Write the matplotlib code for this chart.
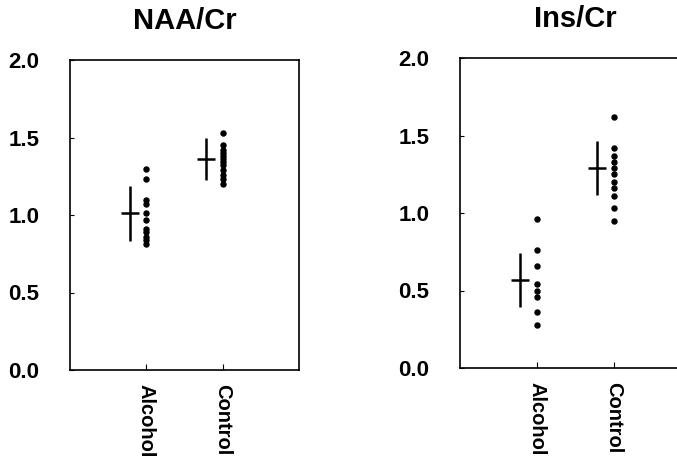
import numpy as np
import matplotlib.pyplot as plt

plt.rcParams['font.family'] = ['Liberation Sans', 'DejaVu Sans']

groups = ["Alcohol", "Control"]
yticks = [0.0, 0.5, 1.0, 1.5, 2.0]

# NAA/Cr
naa_alcohol = [1.30, 1.23, 1.10, 1.07, 1.01, 0.97, 0.91, 0.89, 0.86, 0.84, 0.81]
naa_control = [1.53, 1.45, 1.42, 1.40, 1.38, 1.36, 1.34, 1.32, 1.29, 1.26, 1.23, 1.20]
naa_mean = [1.01, 1.36]
naa_sd = [0.175, 0.135]

# Ins/Cr
ins_alcohol = [0.96, 0.76, 0.66, 0.54, 0.50, 0.46, 0.36, 0.28]
ins_control = [1.62, 1.42, 1.37, 1.33, 1.29, 1.25, 1.20, 1.16, 1.11, 1.03, 0.95]
ins_mean = [0.57, 1.29]
ins_sd = [0.175, 0.175]

fig = plt.figure(figsize=(6.77, 4.66), dpi=100)
W, H = 677, 466
ax1 = fig.add_axes([70 / W, 1 - 370 / H, 229 / W, 310 / H])
ax2 = fig.add_axes([460 / W, 1 - 368 / H, 231 / W, 310 / H])

def panel(ax, title, pts, means, sds):
    x = np.arange(1, len(groups) + 1)
    for i in range(len(groups)):
        ax.plot([x[i]] * len(pts[i]), pts[i], 'o', color='black', markersize=3.6)
    # mean +/- SD cross, offset left of the dots
    ax.errorbar(x - 0.22, means, yerr=sds, fmt='none', ecolor='black', elinewidth=1.8)
    ax.plot(x - 0.22, means, '_', color='black', markersize=13, markeredgewidth=1.8)
    ax.set_xlim(0, 3)
    ax.set_ylim(0, 2.0)
    ax.set_xticks(x)
    ax.set_xticklabels(groups, rotation=270, fontsize=14.5, fontweight='bold')
    ax.set_yticks(yticks)
    ax.set_yticklabels([f"{v:.1f}" for v in yticks], fontsize=16, fontweight='bold')
    ax.tick_params(axis='y', direction='in', length=3, pad=22)
    ax.tick_params(axis='x', direction='in', length=4, pad=10)
    for s in ax.spines.values():
        s.set_linewidth(1.2)
    ax.set_title(title, fontsize=21, fontweight='bold', pad=22)

panel(ax1, "NAA/Cr", [naa_alcohol, naa_control], naa_mean, naa_sd)
panel(ax2, "Ins/Cr", [ins_alcohol, ins_control], ins_mean, ins_sd)

fig.savefig("out.png", dpi=100)
